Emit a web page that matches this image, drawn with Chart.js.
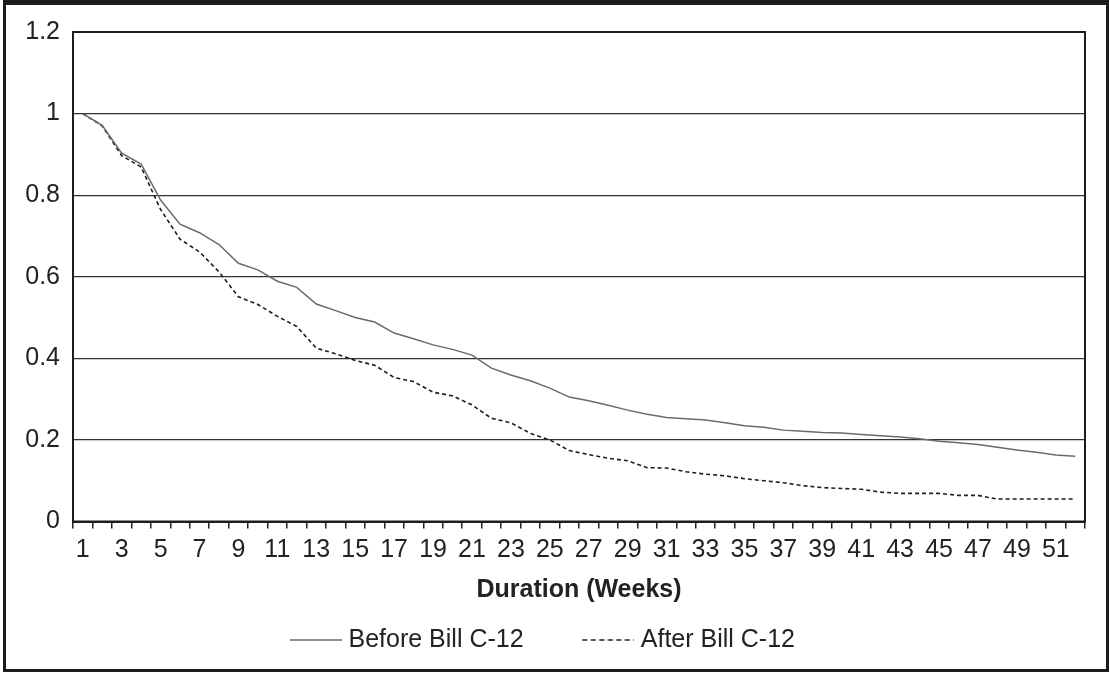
<!DOCTYPE html>
<html lang="en">
<head>
    <meta charset="UTF-8">
    <title>Duration (Weeks)</title>
    <script src="https://cdn.jsdelivr.net/npm/chart.js"></script>
    <style>
        body {
            margin: 0;
            background: #fff;
        }
        .page {
            position: relative;
            width: 1110px;
            height: 673px;
        }
        .frame {
            position: absolute;
            left: 3px;
            top: 0;
            width: 1106px;
            height: 672px;
            box-sizing: border-box;
            border: 3px solid #1c1c1c;
            border-top: 5px solid #1c1c1c;
            pointer-events: none;
        }
        canvas {
            position: absolute;
            left: 0;
            top: 0;
        }
    </style>
</head>
<body>
    <div class="page">
        <canvas id="chart" width="1110" height="673"></canvas>
        <div class="frame"></div>
    </div>

    <script>
        // weeks 1..52
        const weeks = Array.from({length: 52}, (_, i) => String(i + 1));

        const beforeBill = [
            1.0, 0.971, 0.903, 0.876, 0.788, 0.729, 0.708, 0.679, 0.633, 0.617,
            0.589, 0.574, 0.533, 0.517, 0.5, 0.489, 0.462, 0.448, 0.433, 0.422,
            0.408, 0.376, 0.359, 0.345, 0.327, 0.305, 0.296, 0.285, 0.273, 0.263,
            0.255, 0.252, 0.249, 0.242, 0.235, 0.231, 0.224, 0.221, 0.218, 0.217,
            0.213, 0.21, 0.207, 0.203, 0.197, 0.193, 0.189, 0.182, 0.175, 0.17,
            0.163, 0.16
        ];

        const afterBill = [
            1.0, 0.97, 0.897, 0.869, 0.765, 0.692, 0.661, 0.612, 0.551, 0.532,
            0.503, 0.478, 0.425, 0.411, 0.395, 0.383, 0.353, 0.343, 0.317, 0.308,
            0.286, 0.253, 0.242, 0.216, 0.2, 0.174, 0.164, 0.155, 0.149, 0.132,
            0.131, 0.122, 0.116, 0.112, 0.105, 0.1, 0.095, 0.088, 0.083, 0.081,
            0.079, 0.072, 0.069, 0.069, 0.069, 0.064, 0.064, 0.055, 0.055, 0.055,
            0.055, 0.055
        ];

        const yTicks = [0, 0.2, 0.4, 0.6, 0.8, 1, 1.2];

        const FONT = "Arial, 'Liberation Sans', sans-serif";
        const SOLID = "#6a6a6a";
        const DASHED = "#1e1e1e";

        // маленькая картинка-линия для легенды (линия 52px в правой части)
        function legendLine(color, dash, width) {
            const c = document.createElement("canvas");
            c.width = 58;
            c.height = 8;
            const g = c.getContext("2d");
            g.strokeStyle = color;
            g.lineWidth = width;
            g.setLineDash(dash);
            g.beginPath();
            g.moveTo(6, 4);
            g.lineTo(58, 4);
            g.stroke();
            return c;
        }
        const legendIcons = [legendLine(SOLID, [], 1.5), legendLine(DASHED, [5, 3.5], 1.6)];

        // рамка вокруг области графика
        const plotFrame = {
            id: "plotFrame",
            afterDraw(chart) {
                const a = chart.chartArea;
                const ctx = chart.ctx;
                ctx.save();
                ctx.strokeStyle = "#1c1c1c";
                ctx.lineWidth = 2;
                ctx.strokeRect(a.left, a.top, a.right - a.left, a.bottom - a.top);
                ctx.restore();
            }
        };

        new Chart(document.getElementById("chart"), {
            type: "line",
            data: {
                labels: weeks,
                datasets: [{
                    label: "Before Bill C-12",
                    data: beforeBill,
                    borderColor: SOLID,
                    backgroundColor: SOLID,
                    borderWidth: 1.5,
                    pointRadius: 0,
                    tension: 0
                }, {
                    label: "After Bill C-12",
                    data: afterBill,
                    borderColor: DASHED,
                    backgroundColor: DASHED,
                    borderWidth: 1.6,
                    borderDash: [4, 3],
                    pointRadius: 0,
                    tension: 0
                }]
            },
            options: {
                responsive: false,
                animation: false,
                devicePixelRatio: 1,
                layout: {
                    padding: {left: 0, right: 25, top: 32, bottom: 10.5}
                },
                plugins: {
                    tooltip: {enabled: false},
                    legend: {
                        position: "bottom",
                        labels: {
                            usePointStyle: true,
                            pointStyleWidth: 46,
                            padding: 24,
                            color: "#222",
                            font: {family: FONT, size: 25},
                            generateLabels(chart) {
                                const items = Chart.defaults.plugins.legend.labels.generateLabels(chart);
                                items.forEach((it, i) => {
                                    it.pointStyle = legendIcons[i];
                                    if (i === 0) it.text = it.text + "     ";
                                });
                                return items;
                            }
                        }
                    }
                },
                scales: {
                    x: {
                        offset: true,
                        grid: {
                            offset: true,
                            drawOnChartArea: false,
                            drawTicks: true,
                            tickLength: 7,
                            color: "#222",
                            lineWidth: 1.5
                        },
                        border: {display: true, color: "#1c1c1c", width: 2},
                        ticks: {
                            autoSkip: false,
                            maxRotation: 0,
                            padding: 7,
                            color: "#222",
                            font: {family: FONT, size: 25},
                            callback: (v, i) => (i % 2 === 0 ? weeks[i] : "")
                        },
                        title: {
                            display: true,
                            text: "Duration (Weeks)",
                            color: "#222",
                            padding: {top: 0, bottom: 1},
                            font: {family: FONT, size: 25, weight: "bold", lineHeight: 1}
                        },
                        afterFit(scale) {
                            scale.height = 82;
                        }
                    },
                    y: {
                        min: 0,
                        max: 1.2,
                        afterBuildTicks(scale) {
                            scale.ticks = yTicks.map(v => ({value: v}));
                        },
                        grid: {
                            color: "#333",
                            lineWidth: 1.2,
                            drawTicks: false
                        },
                        border: {display: true, color: "#1c1c1c", width: 2},
                        ticks: {
                            padding: 13,
                            color: "#222",
                            font: {family: FONT, size: 25},
                            callback: v => String(v)
                        },
                        afterFit(scale) {
                            scale.width = 73;
                        }
                    }
                }
            },
            plugins: [plotFrame]
        });
    </script>
</body>
</html>
